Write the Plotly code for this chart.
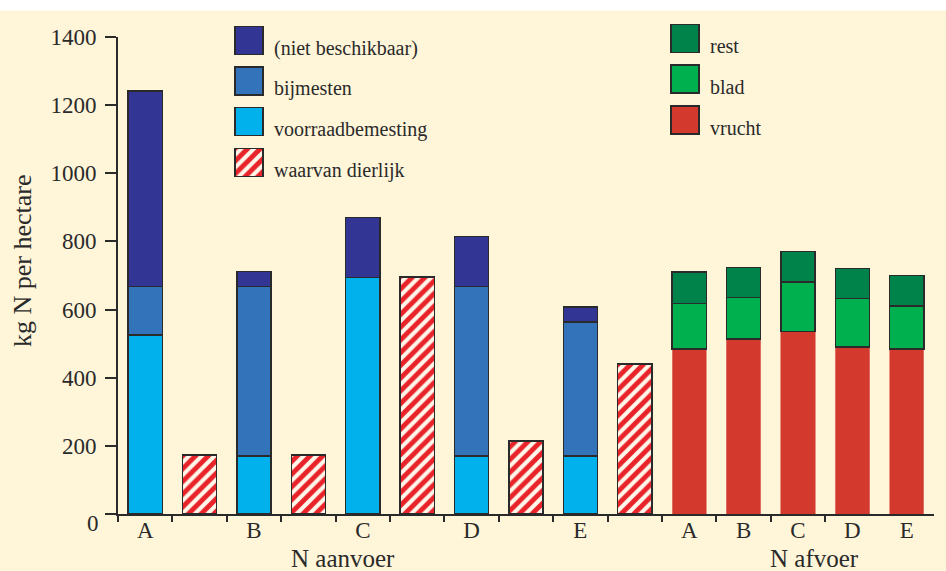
import plotly.graph_objects as go

# ---------------- data ----------------
x_labels = ["A", "", "B", "", "C", "", "D", "", "E", "", "A", "B", "C", "D", "E"]
aanvoer_slots = [0, 2, 4, 6, 8]
dierlijk_slots = [1, 3, 5, 7, 9]
afvoer_slots = [10, 11, 12, 13, 14]

voorraadbemesting = [525, 170, 694, 170, 170]
bijmesten = [142, 497, 0, 498, 393]
niet_beschikbaar = [574, 45, 176, 147, 44]
waarvan_dierlijk = [173, 173, 695, 214, 440]

vrucht = [485, 514, 535, 490, 485]
blad = [133, 122, 146, 143, 125]
rest = [92, 87, 90, 87, 90]

y_ticks = [0, 200, 400, 600, 800, 1000, 1200, 1400]

# ---------------- style ----------------
W, H = 946, 571
L, R, TOP, T, B = 118, 934, 11, 37, 514  # pixels: plot-area top (margin), y=1400 line, y=0 line
CREAM = "#FFF5D9"
TXT = "#2a2a2a"
EDGE = "#2a2a2a"
FONT = "Liberation Serif"

C_NIET = "#323594"
C_BIJ = "#3273BA"
C_VOOR = "#00B1EC"
C_REST = "#00834A"
C_BLAD = "#00AF4D"
C_VRUCHT = "#D3392C"
HATCH_FG = "#E8232A"
HATCH_BG = "#FFF7EA"


def px(xp):
    return (xp - L) / (R - L)


def py(yp):
    return (B - yp) / (B - TOP)


edge = dict(color=EDGE, width=1.5)
hatch = dict(shape="/", fgcolor=HATCH_FG, bgcolor=HATCH_BG, fgopacity=1,
             size=9, solidity=0.55)

fig = go.Figure()

# N aanvoer stacks
fig.add_bar(x=aanvoer_slots, y=voorraadbemesting, marker=dict(color=C_VOOR, line=edge))
fig.add_bar(x=aanvoer_slots, y=bijmesten, marker=dict(color=C_BIJ, line=edge))
fig.add_bar(x=aanvoer_slots, y=niet_beschikbaar, marker=dict(color=C_NIET, line=edge))
# waarvan dierlijk (hatched)
fig.add_bar(x=dierlijk_slots, y=waarvan_dierlijk,
            marker=dict(color=HATCH_BG, pattern=hatch, line=edge))
# N afvoer stacks
fig.add_bar(x=afvoer_slots, y=vrucht, marker=dict(color=C_VRUCHT, line=dict(color="#E07B6E", width=0.8)))
fig.add_bar(x=afvoer_slots, y=blad, marker=dict(color=C_BLAD, line=edge))
fig.add_bar(x=afvoer_slots, y=rest, marker=dict(color=C_REST, line=edge))

# ---------------- legend swatches (pixel-coordinate axes) ----------------
left_items = [("(niet beschikbaar)", C_NIET, None),
              ("bijmesten", C_BIJ, None),
              ("voorraadbemesting", C_VOOR, None),
              ("waarvan dierlijk", HATCH_BG, hatch)]
right_items = [("rest", C_REST, None),
               ("blad", C_BLAD, None),
               ("vrucht", C_VRUCHT, None)]

annotations = []


def add_legend(items, x_left, y_tops, text_x, text_dy):
    for (label, col, pat), ytop in zip(items, y_tops):
        marker = dict(color=col, line=dict(color=EDGE, width=1.5))
        if pat is not None:
            marker["pattern"] = pat
        fig.add_bar(x=[x_left + 14], y=[28], base=[H - (ytop + 28)], width=[28],
                    marker=marker, xaxis="x3", yaxis="y3", cliponaxis=False)
        annotations.append(dict(x=px(text_x), y=py(ytop + 14 + text_dy), xref="paper", yref="paper",
                                text=label, showarrow=False, xanchor="left", yanchor="middle",
                                font=dict(family=FONT, size=20, color=TXT)))


add_legend(left_items, 235, [26.5, 67, 107.5, 148.5], 272, 8)
add_legend(right_items, 671, [24.5, 65, 106], 708, 8)

# axis titles / extra text
annotations += [
    dict(x=px(22), y=py(261), xref="paper", yref="paper", text="kg N per hectare",
         textangle=-90, showarrow=False, xanchor="center", yanchor="middle",
         font=dict(family=FONT, size=26, color=TXT)),
    dict(x=px(343), y=py(558), xref="paper", yref="paper", text="N aanvoer",
         showarrow=False, xanchor="center", yanchor="middle",
         font=dict(family=FONT, size=25, color=TXT)),
    dict(x=px(814), y=py(558), xref="paper", yref="paper", text="N afvoer",
         showarrow=False, xanchor="center", yanchor="middle",
         font=dict(family=FONT, size=25, color=TXT)),
    dict(x=px(101), y=py(523), xref="paper", yref="paper", text="0",
         showarrow=False, xanchor="right", yanchor="middle",
         font=dict(family=FONT, size=23, color=TXT)),
]

ydom = [0, (B - T) / (B - TOP)]

fig.update_layout(
    width=W, height=H,
    margin=dict(l=L, r=W - R, t=TOP, b=H - B, autoexpand=False),
    paper_bgcolor=CREAM, plot_bgcolor="rgba(0,0,0,0)",
    barmode="stack", bargap=0.37,
    showlegend=False,
    font=dict(family=FONT, color=TXT),
    xaxis=dict(range=[-0.5, 14.5], tickmode="array", tickvals=list(range(len(x_labels))),
               ticktext=x_labels, ticks="", showline=True, linecolor=EDGE, linewidth=2,
               showgrid=False, zeroline=False, tickfont=dict(family=FONT, size=23, color=TXT),
               ticklabelstandoff=-6, automargin=False),
    xaxis2=dict(overlaying="x", anchor="y", range=[-0.5, 14.5], tickmode="array",
                tickvals=[i - 0.5 for i in range(len(x_labels) - 1)], ticks="outside",
                ticklen=7, tickwidth=1.5, tickcolor=EDGE, showticklabels=False,
                showline=False, showgrid=False, zeroline=False, automargin=False),
    yaxis=dict(domain=ydom, range=[0, 1400], tickmode="array", tickvals=y_ticks,
               ticktext=["" if v == 0 else str(v) for v in y_ticks],
               ticks="outside", ticklen=11, tickwidth=2, tickcolor=EDGE,
               showline=True, linecolor=EDGE, linewidth=2, showgrid=False, zeroline=False,
               tickfont=dict(family=FONT, size=23, color=TXT), ticklabelstandoff=4,
               automargin=False),
    xaxis3=dict(domain=[0, 1], anchor="y3", range=[L, R], visible=False, automargin=False),
    yaxis3=dict(domain=[0, 1], anchor="x3", range=[H - B, H - TOP], visible=False, automargin=False),
    annotations=annotations,
    shapes=[dict(type="rect", xref="paper", yref="paper", x0=px(-5), x1=px(W + 5),
                 y0=py(10.5), y1=py(-5), fillcolor="white", line=dict(width=0), layer="above")],
)

# invisible trace to activate the boundary-tick axis
fig.add_scatter(x=[0], y=[0], xaxis="x2", yaxis="y", mode="markers",
                marker=dict(opacity=0), hoverinfo="skip")

fig.write_html("out.html", config={"displayModeBar": False},
               post_script="document.body.style.margin='0';document.body.style.padding='0';")
